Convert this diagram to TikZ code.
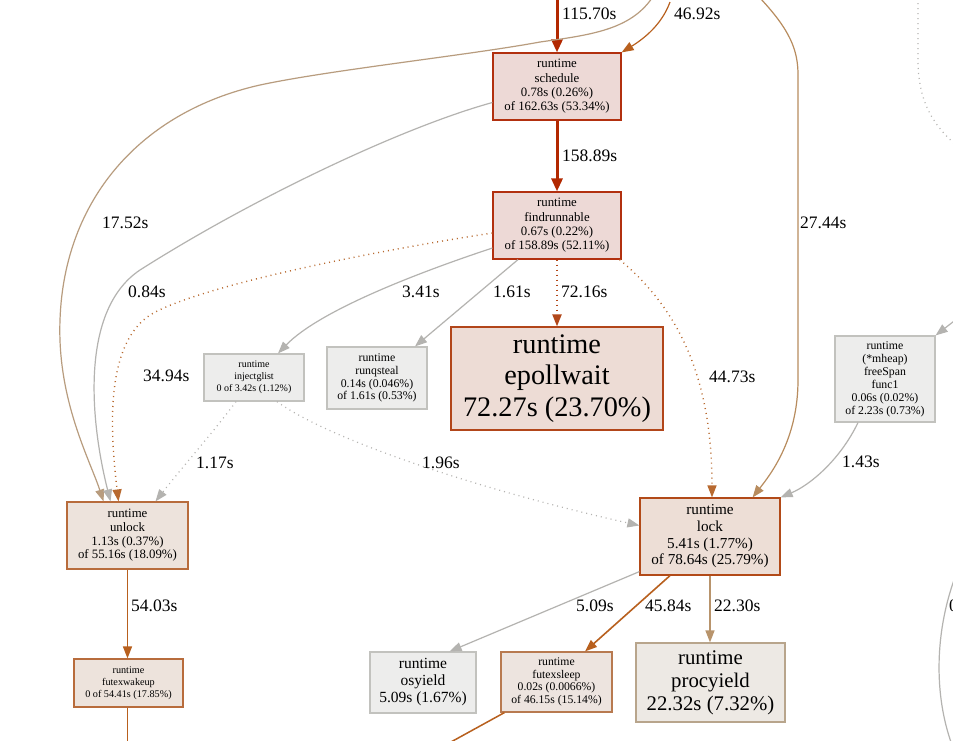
\documentclass[tikz,border=0pt]{standalone}
\usepackage{fontspec}
\setmainfont{Liberation Serif}
\usetikzlibrary{arrows.meta,calc}
\newcommand{\nfs}[2]{\fontsize{#1}{#2}\selectfont}
\definecolor{bRed}{HTML}{B2300F}
\definecolor{fRed}{HTML}{EDD9D6}
\definecolor{bEpo}{HTML}{B2461A}
\definecolor{fEpo}{HTML}{EDDCD5}
\definecolor{bLock}{HTML}{B24A18}
\definecolor{fLock}{HTML}{EDDED6}
\definecolor{bUnl}{HTML}{B86C3C}
\definecolor{fUnl}{HTML}{EDE3DC}
\definecolor{bFs}{HTML}{B87A50}
\definecolor{fFs}{HTML}{EDE4DF}
\definecolor{bProc}{HTML}{B8A58C}
\definecolor{fProc}{HTML}{EDE9E4}
\definecolor{bGray}{HTML}{C2C2BE}
\definecolor{fGray}{HTML}{EDEDEC}
\definecolor{eRed}{HTML}{B22800}
\definecolor{eOrg}{HTML}{B8601E}
\definecolor{eOrg2}{HTML}{B8692F}
\definecolor{eTan}{HTML}{B89C7E}
\definecolor{eTan2}{HTML}{B88C5E}
\definecolor{eTan3}{HTML}{B8946C}
\definecolor{eGray}{HTML}{B4B3B0}
\definecolor{eEpo}{HTML}{B2481A}
\tikzset{
  box/.style={draw, line width=1.2pt, inner sep=0pt, align=center, text=black},
  lbl/.style={anchor=west, inner sep=0pt, font=\nfs{17.5}{18}},
  edge/.style={-{Triangle[length=12pt,width=9pt]}, line width=1.2pt},
  dots/.style={dash pattern=on 1pt off 4pt},
}
\begin{document}
\begin{tikzpicture}[x=1pt,y=-1pt]
\clip (0,0) rectangle (953,740);
\fill[white] (0,0) rectangle (953,740);

% nodes
\node[box, draw=bRed, fill=fRed, minimum width=128pt, minimum height=67pt, font=\nfs{12.8}{14.3}] (sched) at (557,86.5) {runtime\\schedule\\0.78s (0.26\%)\\of 162.63s (53.34\%)};
\node[box, draw=bRed, fill=fRed, minimum width=128pt, minimum height=67pt, font=\nfs{12.8}{14.3}] (find) at (557,225.5) {runtime\\findrunnable\\0.67s (0.22\%)\\of 158.89s (52.11\%)};
\node[box, draw=bEpo, fill=fEpo, minimum width=212pt, minimum height=103pt, font=\nfs{28.3}{31.5}] (epoll) at (557,378.5) {runtime\\epollwait\\72.27s (23.70\%)};
\node[box, draw=bGray, fill=fGray, minimum width=100pt, minimum height=47pt, font=\nfs{10}{12}] (inj) at (254,377.5) {runtime\\injectglist\\0 of 3.42s (1.12\%)};
\node[box, draw=bGray, fill=fGray, minimum width=100pt, minimum height=62pt, font=\nfs{11.8}{12.7}] (steal) at (377,378) {runtime\\runqsteal\\0.14s (0.046\%)\\of 1.61s (0.53\%)};
\node[box, draw=bGray, fill=fGray, minimum width=100pt, minimum height=86pt, font=\nfs{11.8}{13}] (mheap) at (885,379) {runtime\\(*mheap)\\freeSpan\\func1\\0.06s (0.02\%)\\of 2.23s (0.73\%)};
\node[box, draw=bUnl, fill=fUnl, minimum width=121pt, minimum height=67pt, font=\nfs{12.8}{13.6}] (unlock) at (127.5,535.5) {runtime\\unlock\\1.13s (0.37\%)\\of 55.16s (18.09\%)};
\node[box, draw=bLock, fill=fLock, minimum width=140pt, minimum height=77pt, font=\nfs{15.2}{16.7}] (lock) at (710,536.5) {runtime\\lock\\5.41s (1.77\%)\\of 78.64s (25.79\%)};
\node[box, draw=bUnl, fill=fUnl, minimum width=109pt, minimum height=48pt, font=\nfs{10.2}{11.7}] (fwake) at (128.5,683) {runtime\\futexwakeup\\0 of 54.41s (17.85\%)};
\node[box, draw=bGray, fill=fGray, minimum width=106pt, minimum height=61pt, font=\nfs{15.5}{17}] (osy) at (423,682.5) {runtime\\osyield\\5.09s (1.67\%)};
\node[box, draw=bFs, fill=fFs, minimum width=111pt, minimum height=60pt, font=\nfs{11.7}{12.7}] (fsleep) at (556.5,682) {runtime\\futexsleep\\0.02s (0.0066\%)\\of 46.15s (15.14\%)};
\node[box, draw=bProc, fill=fProc, minimum width=149pt, minimum height=79pt, font=\nfs{20.8}{23}] (proc) at (710.5,682.5) {runtime\\procyield\\22.32s (7.32\%)};

% outside coordinates
\coordinate (t1) at (557,-2);
\coordinate (t2) at (670,2);
\coordinate (t3) at (652,-2);
\coordinate (t4) at (760,-2);
\coordinate (t5) at (918,-2);
\coordinate (r1) at (975,160);
\coordinate (r2) at (958,318);
\coordinate (r3) at (962,560);
\coordinate (r4) at (952,745);
\coordinate (b1) at (127.5,745);
\coordinate (b2) at (440,748);

% edges
\draw[edge, eRed, line width=3pt, -{Triangle[length=13pt,width=11pt]}] (t1) -- (sched.north);
\draw[edge, eOrg] (t2) .. controls (662,24) and (645,38) .. (sched.north east);
\draw[edge, eTan] (t3) .. controls (630,30) and (590,35) .. (540,42) .. controls (470,55) and (330,70) .. (260,85) .. controls (140,112) and (64,200) .. (60,320) .. controls (57,400) and (90,460) .. ($(unlock.north)+(-24,0)$);
\draw[edge, eGray] ($(sched.west)+(0,16)$) .. controls (400,128) and (250,200) .. (140,270) .. controls (80,310) and (90,420) .. ($(unlock.north)+(-17,0)$);
\draw[edge, eRed, line width=3pt, -{Triangle[length=13pt,width=11pt]}] (sched.south) -- (find.north);
\draw[edge, eOrg2, dots, line width=1.4pt] ($(find.west)+(0,7.5)$) .. controls (380,250) and (200,285) .. (150,315) .. controls (105,345) and (110,430) .. ($(unlock.north)+(-9,0)$);
\draw[edge, eGray] ($(find.west)+(0,22.5)$) .. controls (420,272) and (320,310) .. ($(inj.north)+(24,0)$);
\draw[edge, eGray] ($(find.south)+(-39,0)$) -- ($(steal.north)+(38,0)$);
\draw[edge, eEpo, dots, line width=2pt] (find.south) -- (epoll.north);
\draw[edge, eOrg2, dots, line width=1.4pt] ($(find.south east)+(-2,0)$) .. controls (680,310) and (712,380) .. ($(lock.north)+(2,0)$);
\draw[edge, eTan2] (t4) .. controls (790,30) and (798,50) .. (798,75) -- (798,380) .. controls (798,440) and (770,475) .. ($(lock.north east)+(-28,0)$);
\draw[eGray, dots, line width=1.2pt] (t5) -- (918,60) .. controls (918,110) and (940,135) .. (r1);
\draw[edge, eGray] (r2) -- (mheap.north east);
\draw[edge, eGray] ($(mheap.south)+(-27,0)$) .. controls (840,460) and (810,485) .. (lock.north east);
\draw[eGray, line width=1.2pt] (r3) .. controls (935,620) and (932,690) .. (r4);
\draw[edge, eGray, dots] ($(inj.south)+(-18,0)$) .. controls (215,430) and (180,470) .. ($(unlock.north)+(28,0)$);
\draw[edge, eGray, dots] ($(inj.south)+(23,0)$) .. controls (330,440) and (480,490) .. ($(lock.west)+(0,-11)$);
\draw[edge, eOrg, line width=1.5pt] (unlock.south) -- (unlock.south |- fwake.north);
\draw[eOrg, line width=1.5pt] (fwake.south -| unlock.south) -- (b1);
\draw[edge, eGray] ($(lock.south west)+(0,-4)$) -- ($(osy.north east)+(-27,0)$);
\draw[edge, eOrg, line width=1.6pt] ($(lock.south)+(-40,0)$) -- ($(fsleep.north)+(28.5,0)$);
\draw[edge, eTan3, line width=1.4pt] (lock.south) -- (lock.south |- proc.north);
\draw[eOrg, line width=1.5pt] ($(fsleep.south west)+(4,0)$) -- (b2);

% edge labels
\node[lbl] (l115) at (562,14) {115.70s};
\node[lbl] (l469) at (674,14) {46.92s};
\node[lbl] (l158) at (562,156) {158.89s};
\node[lbl] (l175) at (102,223) {17.52s};
\node[lbl] (l274) at (800,223) {27.44s};
\node[lbl] (l084) at (128,292) {0.84s};
\node[lbl] (l341) at (402,292) {3.41s};
\node[lbl] (l161) at (493,292) {1.61s};
\node[lbl] (l721) at (561,292) {72.16s};
\node[lbl] (l349) at (143,376) {34.94s};
\node[lbl] (l447) at (709,377) {44.73s};
\node[lbl] (l117) at (196,463) {1.17s};
\node[lbl] (l196) at (422,463) {1.96s};
\node[lbl] (l143) at (842,462) {1.43s};
\node[lbl] (l540) at (131,606) {54.03s};
\node[lbl] (l509) at (576,606) {5.09s};
\node[lbl] (l458) at (645,606) {45.84s};
\node[lbl] (l223) at (714,606) {22.30s};
\node[lbl] (lcut) at (949,606) {0};
\end{tikzpicture}
\end{document}
